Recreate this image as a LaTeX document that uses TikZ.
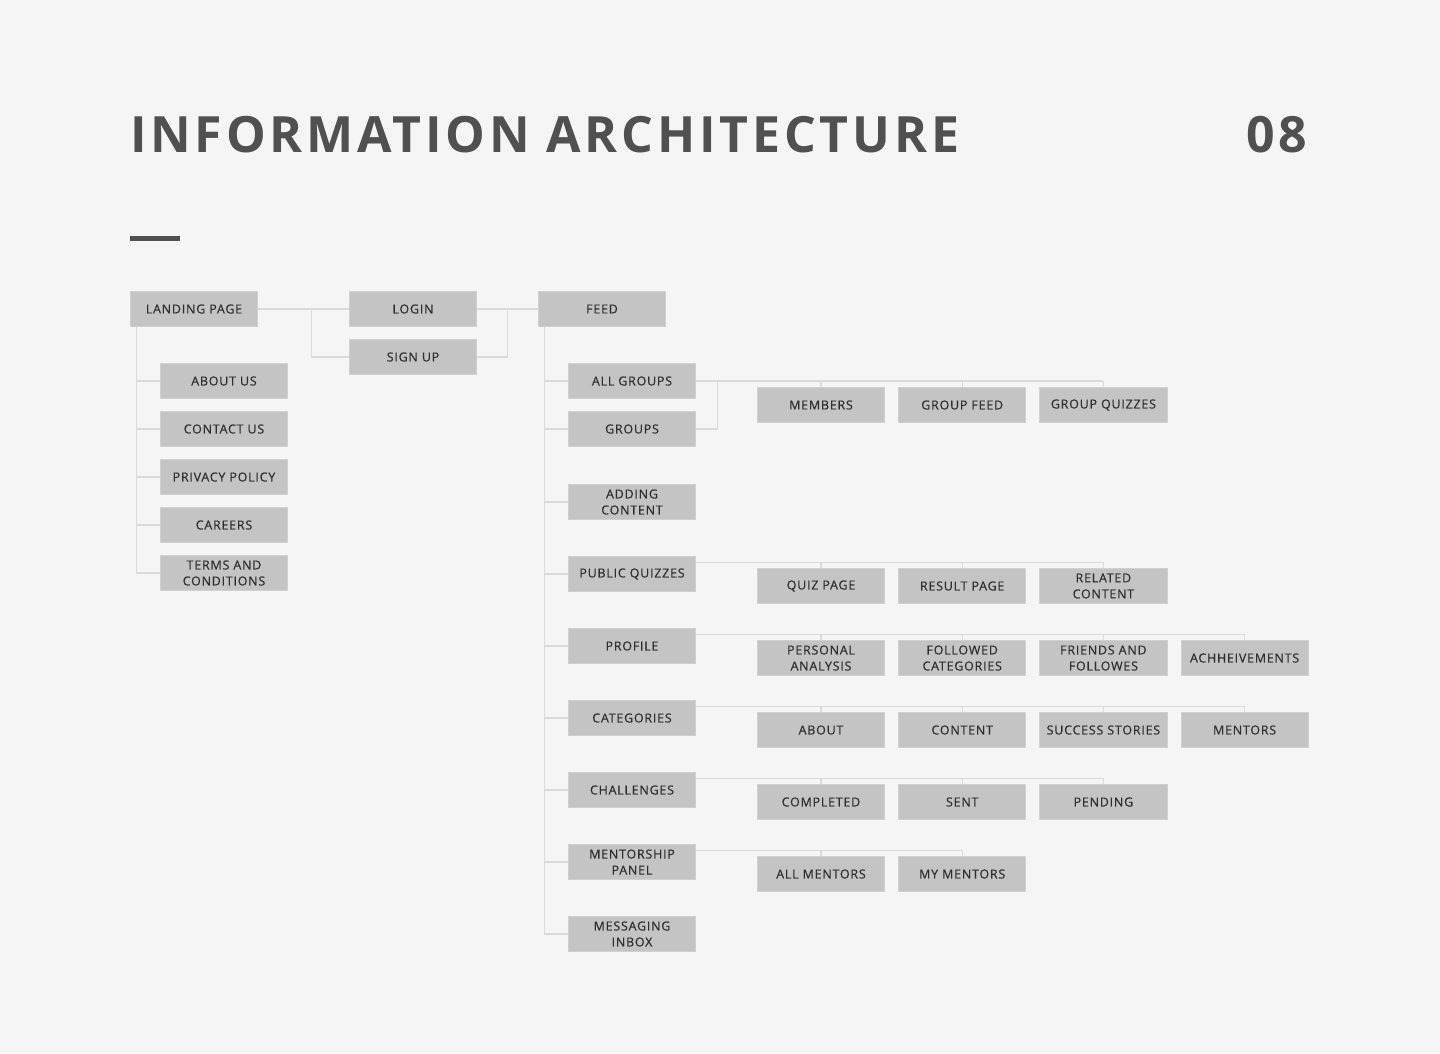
\documentclass[tikz,border=0pt]{standalone}
\usepackage{fontspec}
\setmainfont{Open Sans}
\newfontfamily\boxfont[LetterSpace=6,FakeBold=0.4]{Open Sans}
\newfontfamily\titlefont[LetterSpace=7.6]{Open Sans}
\newfontfamily\numfont[LetterSpace=8]{Open Sans}
\usetikzlibrary{positioning}

\definecolor{pagebg}{HTML}{F5F5F5}
\definecolor{boxfill}{HTML}{C4C4C4}
\definecolor{boxline}{HTML}{D0D0D0}
\definecolor{linkgray}{HTML}{DADADA}
\definecolor{inkgray}{HTML}{2E2E2E}
\definecolor{titlegray}{HTML}{505050}

\tikzset{
    pagebox/.style={fill=boxfill, draw=boxline, line width=0.8pt,
        minimum width=127.2pt, minimum height=35.2pt, inner sep=0pt,
        outer sep=0pt, align=center, text=inkgray,
        font=\boxfont\fontsize{12.5}{16}\selectfont},
    link/.style={draw=linkgray, line width=1.4pt},
}

\begin{document}
\begin{tikzpicture}[x=1pt,y=-1pt]
    \pgfmathsetmacro{\colL}{224}
    \pgfmathsetmacro{\colF}{632}
    \pgfmathsetmacro{\colG}{821}
    % Page and heading
    \useasboundingbox (0,0) rectangle (1440,1053);
    \fill [pagebg] (0,0) rectangle (1440,1053);
    \node [anchor=base west, inner sep=0pt, text=titlegray,
        font=\titlefont\bfseries\fontsize{50}{50}\selectfont] (title) at (130,152) {INFORMATION ARCHITECTURE};
    \node [anchor=base west, inner sep=0pt, text=titlegray,
        font=\numfont\bfseries\fontsize{50}{50}\selectfont] (pagenum) at (1246,152) {08};
    \fill [titlegray] (130,236) rectangle (180,241);

    % Top row
    \node [pagebox] (landing) at (194,309) {LANDING PAGE};
    \node [pagebox] (login) at (413,309) {LOGIN};
    \node [pagebox] (signup) at (413,357) {SIGN UP};
    \node [pagebox] (feed) at (602,309) {FEED};

    % Landing page children
    \node [pagebox] (about) at (\colL,381) {ABOUT US};
    \node [pagebox, below=12.8pt of about] (contact) {CONTACT US};
    \node [pagebox, below=12.8pt of contact] (privacy) {PRIVACY POLICY};
    \node [pagebox, below=12.8pt of privacy] (careers) {CAREERS};
    \node [pagebox, below=12.8pt of careers] (terms) {TERMS AND\\CONDITIONS};

    % Feed children
    \node [pagebox] (allgroups) at (\colF,381) {ALL GROUPS};
    \node [pagebox] (groups) at (\colF,429) {GROUPS};
    \node [pagebox] (adding) at (\colF,502) {ADDING\\CONTENT};
    \node [pagebox] (quizzes) at (\colF,574) {PUBLIC QUIZZES};
    \node [pagebox] (profile) at (\colF,646) {PROFILE};
    \node [pagebox] (categories) at (\colF,718) {CATEGORIES};
    \node [pagebox] (challenges) at (\colF,790) {CHALLENGES};
    \node [pagebox] (mentorship) at (\colF,862) {MENTORSHIP\\PANEL};
    \node [pagebox] (inbox) at (\colF,934) {MESSAGING\\INBOX};

    % Third level
    \node [pagebox] (members) at (\colG,405) {MEMBERS};
    \node [pagebox, right=14pt of members] (groupfeed) {GROUP FEED};
    \node [pagebox, right=14pt of groupfeed] (groupquizzes) {GROUP QUIZZES};

    \node [pagebox] (quizpage) at (\colG,586) {QUIZ PAGE};
    \node [pagebox, right=14pt of quizpage] (resultpage) {RESULT PAGE};
    \node [pagebox, right=14pt of resultpage] (related) {RELATED\\CONTENT};

    \node [pagebox] (personal) at (\colG,658) {PERSONAL\\ANALYSIS};
    \node [pagebox, right=14pt of personal] (followed) {FOLLOWED\\CATEGORIES};
    \node [pagebox, right=14pt of followed] (friends) {FRIENDS AND\\FOLLOWES};
    \node [pagebox, right=14pt of friends] (achieve) {ACHHEIVEMENTS};

    \node [pagebox] (catabout) at (\colG,730) {ABOUT};
    \node [pagebox, right=14pt of catabout] (catcontent) {CONTENT};
    \node [pagebox, right=14pt of catcontent] (success) {SUCCESS STORIES};
    \node [pagebox, right=14pt of success] (catmentors) {MENTORS};

    \node [pagebox] (completed) at (\colG,802) {COMPLETED};
    \node [pagebox, right=14pt of completed] (sent) {SENT};
    \node [pagebox, right=14pt of sent] (pending) {PENDING};

    \node [pagebox] (allmentors) at (\colG,874) {ALL MENTORS};
    \node [pagebox, right=14pt of allmentors] (mymentors) {MY MENTORS};

    % Draw the top row links
    \coordinate (split) at ([xshift=54pt]landing.east);
    \coordinate (join) at ([xshift=31pt]login.east);
    \draw [link] (landing.east) -- (login.west);
    \draw [link] (split) |- (signup.west);
    \draw [link] (login.east) -- (feed.west);
    \draw [link] (signup.east) -| (join);

    % Draw the spines
    \coordinate (lspine) at ([xshift=6pt]landing.south west);
    \coordinate (fspine) at ([xshift=6pt]feed.south west);
    \draw [link] (lspine) -- (lspine |- terms.west);
    \foreach \n in {about,contact,privacy,careers,terms}
        \draw [link] (\n.west) -- (\n.west -| lspine);
    \draw [link] (fspine) -- (fspine |- inbox.west);
    \foreach \n in {allgroups,groups,adding,quizzes,profile,categories,challenges,mentorship,inbox}
        \draw [link] (\n.west) -- (\n.west -| fspine);

    % Groups bus
    \coordinate (groupjoin) at ([xshift=22pt]allgroups.east);
    \draw [link] (groups.east) -| (groupjoin);
    \draw [link] (allgroups.east) -- (allgroups.east -| groupquizzes.north);
    \foreach \n in {members,groupfeed,groupquizzes}
        \draw [link] (\n.north) -- (\n.north |- allgroups.east);

    % Remaining buses
    \coordinate (quizbus) at ([yshift=6pt]related.north);
    \draw [link] (quizzes.east |- quizbus) -- (quizbus);
    \foreach \n in {quizpage,resultpage,related}
        \draw [link] (\n.north) -- (\n.north |- quizbus);

    \coordinate (profilebus) at ([yshift=6pt]achieve.north);
    \draw [link] (profile.east |- profilebus) -- (profilebus);
    \foreach \n in {personal,followed,friends,achieve}
        \draw [link] (\n.north) -- (\n.north |- profilebus);

    \coordinate (catbus) at ([yshift=6pt]catmentors.north);
    \draw [link] (categories.east |- catbus) -- (catbus);
    \foreach \n in {catabout,catcontent,success,catmentors}
        \draw [link] (\n.north) -- (\n.north |- catbus);

    \coordinate (challengebus) at ([yshift=6pt]pending.north);
    \draw [link] (challenges.east |- challengebus) -- (challengebus);
    \foreach \n in {completed,sent,pending}
        \draw [link] (\n.north) -- (\n.north |- challengebus);

    \coordinate (mentorbus) at ([yshift=6pt]mymentors.north);
    \draw [link] (mentorship.east |- mentorbus) -- (mentorbus);
    \foreach \n in {allmentors,mymentors}
        \draw [link] (\n.north) -- (\n.north |- mentorbus);
\end{tikzpicture}
\end{document}
